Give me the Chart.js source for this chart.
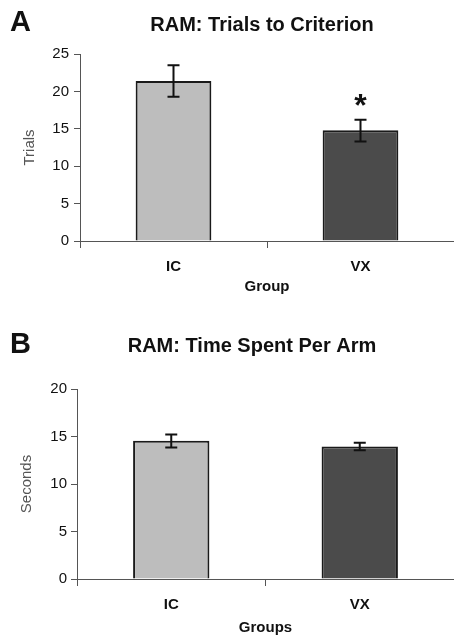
<!DOCTYPE html>
<html lang="en">
<head>
<meta charset="UTF-8">
<title>RAM</title>
<style>
  body { margin: 0; background: #fff; }
  .panel { position: absolute; left: 0; }
</style>
</head>
<body>
<div class="panel" style="top:0"><canvas id="chartA" width="454" height="310"></canvas></div>
<div class="panel" style="top:310px"><canvas id="chartB" width="454" height="328"></canvas></div>

<script src="https://cdn.jsdelivr.net/npm/chart.js"></script>
<script>
    // data
    const groups = ['IC', 'VX'];

    const trials = [21.4, 14.8];
    const trialsLow = [19.3, 13.3];
    const trialsHigh = [23.5, 16.2];
    const trialsMarks = ['', '*'];
    const trialsTicks = { min: 0, max: 25, step: 5 };

    const seconds = [14.55, 13.95];
    const secondsLow = [13.85, 13.55];
    const secondsHigh = [15.2, 14.35];
    const secondsMarks = ['', ''];
    const secondsTicks = { min: 0, max: 20, step: 5 };

    const barColors = ['#bdbdbd', '#4b4b4b'];
    const font = '"Liberation Sans", Arial, sans-serif';

    // error bars, significance marks, panel letter and heading
    const extras = {
        id: 'extras',
        afterDatasetsDraw(chart, args, opts) {
            const { ctx, scales: { x, y } } = chart;
            ctx.save();
            ctx.strokeStyle = '#111';
            ctx.lineWidth = 2;
            opts.low.forEach((lo, i) => {
                const px = x.getPixelForValue(i);
                const yl = y.getPixelForValue(lo);
                const yh = y.getPixelForValue(opts.high[i]);
                ctx.beginPath();
                ctx.moveTo(px, yl); ctx.lineTo(px, yh);
                ctx.moveTo(px - 6, yl); ctx.lineTo(px + 6, yl);
                ctx.moveTo(px - 6, yh); ctx.lineTo(px + 6, yh);
                ctx.stroke();
                if (opts.marks[i]) {
                    ctx.fillStyle = '#111';
                    ctx.font = 'bold 32px ' + font;
                    ctx.textAlign = 'center';
                    ctx.textBaseline = 'alphabetic';
                    ctx.fillText(opts.marks[i], px, yh - 4);
                }
            });
            ctx.fillStyle = '#111';
            ctx.textBaseline = 'alphabetic';
            ctx.textAlign = 'left';
            ctx.font = 'bold 29px ' + font;
            ctx.fillText(opts.letter, opts.letterX, opts.letterY);
            ctx.textAlign = 'center';
            ctx.font = 'bold 20px ' + font;
            ctx.fillText(opts.heading, opts.headingX, opts.headingY);
            ctx.restore();
        }
    };

    function makeChart(id, values, low, high, marks, ticks, cfg) {
        return new Chart(document.getElementById(id), {
            type: 'bar',
            data: {
                labels: groups,
                datasets: [{
                    data: values,
                    backgroundColor: barColors,
                    borderColor: '#1a1a1a',
                    borderWidth: 2,
                    categoryPercentage: 1,
                    barPercentage: 0.405
                }]
            },
            options: {
                responsive: false,
                animation: false,
                layout: { padding: { top: cfg.top, left: 0, right: 0, bottom: 0 } },
                plugins: {
                    legend: { display: false },
                    tooltip: { enabled: false },
                    extras: {
                        low: low, high: high, marks: marks,
                        letter: cfg.letter, letterX: 10, letterY: cfg.letterY,
                        heading: cfg.heading, headingX: cfg.headingX, headingY: cfg.headingY
                    }
                },
                scales: {
                    x: {
                        afterFit: s => { s.height = cfg.xHeight; },
                        grid: { drawOnChartArea: false, tickLength: 7, color: '#555', offset: true },
                        border: { color: '#555', width: 1 },
                        ticks: { color: '#111', padding: 10, font: { family: font, size: 15, weight: 'bold' } },
                        title: {
                            display: true, text: cfg.xTitle, color: '#111',
                            font: { family: font, size: 15, weight: 'bold' },
                            padding: { top: 0, bottom: cfg.xTitlePad }
                        }
                    },
                    y: {
                        min: ticks.min, max: ticks.max,
                        afterFit: s => { s.width = cfg.yWidth; },
                        grid: { drawOnChartArea: false, tickLength: 6, color: '#555' },
                        border: { color: '#555', width: 1 },
                        ticks: { stepSize: ticks.step, color: '#111', padding: cfg.yTickPad, font: { family: font, size: 15 } },
                        title: {
                            display: true, text: cfg.yTitle, color: '#555',
                            font: { family: font, size: 15 },
                            padding: { top: cfg.yTitlePad, bottom: 0 }
                        }
                    }
                }
            },
            plugins: [extras]
        });
    }

    makeChart('chartA', trials, trialsLow, trialsHigh, trialsMarks, trialsTicks, {
        top: 54, xHeight: 69, yWidth: 80, yTickPad: 5,
        xTitle: 'Group', xTitlePad: 14, yTitle: 'Trials', yTitlePad: 21,
        letter: 'A', letterY: 31, heading: 'RAM: Trials to Criterion', headingX: 262, headingY: 31
    });

    makeChart('chartB', seconds, secondsLow, secondsHigh, secondsMarks, secondsTicks, {
        top: 79, xHeight: 59, yWidth: 77, yTickPad: 4,
        xTitle: 'Groups', xTitlePad: 1, yTitle: 'Seconds', yTitlePad: 18,
        letter: 'B', letterY: 43, heading: 'RAM: Time Spent Per Arm', headingX: 252, headingY: 42
    });
</script>
</body>
</html>
